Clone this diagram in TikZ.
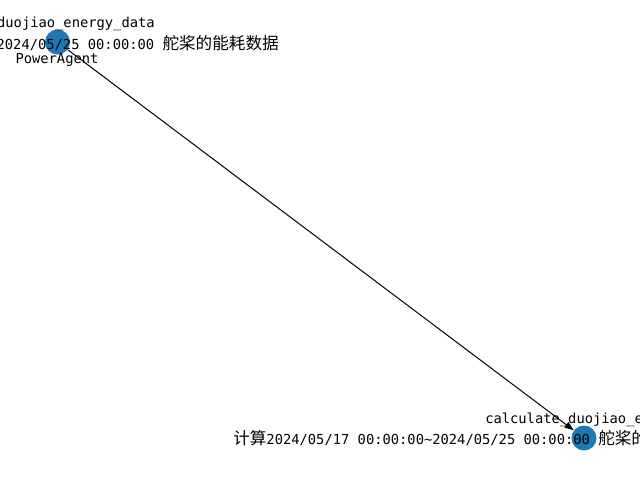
\documentclass[tikz,border=0pt]{standalone}
\usepackage{fontspec}
\setmainfont{DejaVu Sans Mono}[Scale=0.83]
\newfontfamily\cjk{Noto Sans CJK SC}
\usetikzlibrary{arrows.meta}
\definecolor{nodeblue}{HTML}{1F77B4}
\begin{document}
\begin{tikzpicture}[x=0.75pt,y=-0.75pt,
  gnode/.style={circle,fill=nodeblue,draw=none,minimum size=18.75pt,inner sep=0pt},
  lbl/.style={inner sep=0pt,font=\fontsize{12.45pt}{14pt}\selectfont},
  edge/.style={draw=black,line width=0.75pt,-{Triangle[length=7pt,width=5pt]}}]
\useasboundingbox (0,0) rectangle (640,480);
\clip (0,0) rectangle (640,480);
\node[gnode] (n1) at (57.5,42) {};
\node[gnode] (n2) at (584,438) {};
\draw[edge] (n1) -- (n2);
% labels of node 1
\node[lbl,anchor=east] (t1a) at (155,24) {duojiao\_energy\_data};
\node[lbl,anchor=east] (t1b) at (279,43) {2024/05/25 00:00:00 {\cjk 舵桨的能耗数据}};
\node[lbl] (t1c) at (57,60) {PowerAgent};
% labels of node 2
\node[lbl,anchor=west] (t2a) at (485,420) {calculate\_duojiao\_e};
\node[lbl,anchor=west] (t2b) at (233,438) {{\cjk 计算}2024/05/17 00:00:00\textasciitilde2024/05/25 00:00:00 {\cjk 舵桨的}};
\end{tikzpicture}
\end{document}
